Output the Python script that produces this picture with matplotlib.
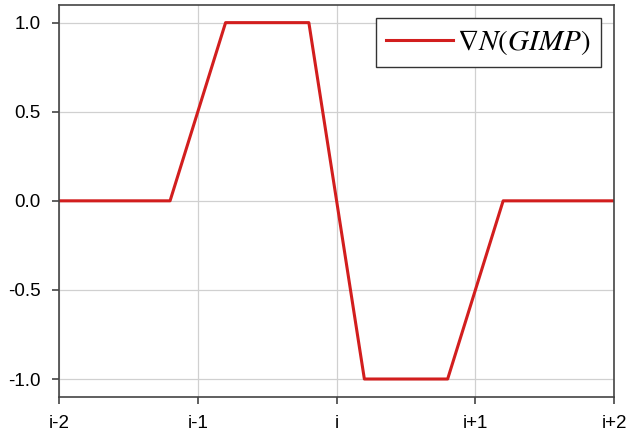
import matplotlib
matplotlib.use("Agg")
import matplotlib.pyplot as plt

# GIMP shape function gradient
x = [-2.0, -1.2, -0.8, -0.2, 0.2, 0.8, 1.2, 2.0]
grad = [0.0, 0.0, 1.0, 1.0, -1.0, -1.0, 0.0, 0.0]
xticks = [-2, -1, 0, 1, 2]
xlabels = ["i-2", "i-1", "i", "i+1", "i+2"]
yticks = [-1.0, -0.5, 0.0, 0.5, 1.0]

plt.rcParams['font.family'] = ['Liberation Sans', 'DejaVu Sans']
plt.rcParams['mathtext.fontset'] = 'stix'

fig = plt.figure(figsize=(6.28, 4.38), dpi=100)
ax = fig.add_axes([0.094, 0.094, 0.884, 0.895])

ax.plot(x, grad, color='#d21e1e', lw=2.2, label=r'$\nabla N(GIMP)$')

ax.set_xlim(-2, 2)
ax.set_ylim(-1.1, 1.1)
ax.set_xticks(xticks)
ax.set_xticklabels(xlabels)
ax.set_yticks(yticks)
ax.set_yticklabels([f"{v:.1f}" for v in yticks])
ax.tick_params(labelsize=13.5, color='#444444', length=5, width=1.2, pad=8)
ax.grid(True, color='#d0d0d0', lw=0.9)
ax.set_axisbelow(True)
for s in ax.spines.values():
    s.set_color('#444444')
    s.set_linewidth(1.2)

leg = ax.legend(loc='upper right', fontsize=21, handlelength=2.3, handletextpad=0.15,
                fancybox=False, framealpha=1, edgecolor='#333333', borderpad=0.35,
                borderaxespad=0, bbox_to_anchor=(0.976, 0.967))
leg.get_frame().set_linewidth(1.0)

fig.savefig("out.png", dpi=100)
